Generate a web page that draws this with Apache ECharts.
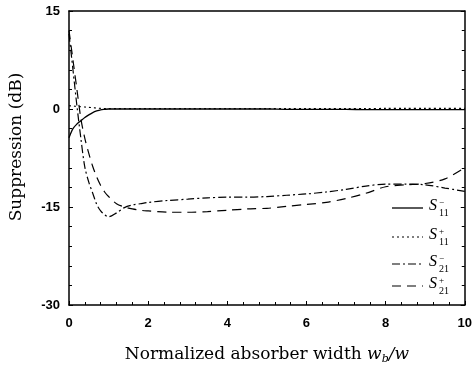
<!DOCTYPE html>
<html>
<head>
<meta charset="utf-8">
<script src="https://cdn.jsdelivr.net/npm/echarts@6/dist/echarts.min.js"></script>
<style>html,body{margin:0;padding:0;background:#fff}#c{width:475px;height:375px}</style>
</head>
<body>
<div id="c"></div>
<script>
var xs = [0, 0.1, 0.2, 0.3, 0.4, 0.5, 0.6, 0.7, 0.8, 0.9, 1.0, 1.2, 1.4, 1.6, 1.8, 2.0, 2.5, 3.0, 3.5, 4.0, 4.5, 5.0, 5.5, 6.0, 6.5, 7.0, 7.5, 8.0, 8.5, 9.0, 9.5, 10];
var s11m = [-4.4, -3.0, -2.3, -1.8, -1.3, -0.9, -0.55, -0.3, -0.12, -0.05, 0, 0, 0, 0, 0, 0, 0, 0, 0, 0, 0, 0, -0.05, -0.05, -0.05, -0.05, -0.1, -0.1, -0.1, -0.1, -0.1, -0.1];
var s11p = [0.5, 0.45, 0.4, 0.35, 0.3, 0.25, 0.2, 0.15, 0.1, 0.08, 0.05, 0.05, 0.05, 0.05, 0.05, 0.05, 0.05, 0.05, 0.05, 0.05, 0.05, 0.05, 0.05, 0.05, 0.05, 0.05, 0.05, 0.1, 0.1, 0.1, 0.1, 0.1];
var s21m = [11.5, 6, 0.5, -4.5, -8.9, -11.2, -12.9, -14.6, -15.6, -16.2, -16.5, -15.9, -15.1, -14.7, -14.5, -14.3, -14.0, -13.8, -13.6, -13.5, -13.5, -13.4, -13.2, -13.0, -12.7, -12.3, -11.8, -11.5, -11.5, -11.6, -12.1, -12.6];
var s21p = [12, 7.5, 3, -1.5, -4.5, -6.8, -8.8, -10.4, -11.7, -12.7, -13.4, -14.5, -15.0, -15.3, -15.5, -15.6, -15.8, -15.8, -15.7, -15.5, -15.3, -15.2, -14.9, -14.6, -14.3, -13.7, -12.9, -11.9, -11.6, -11.4, -10.7, -9.0];
var names = ['S11-', 'S11+', 'S21-', 'S21+'];
var xTicks = [0, 2, 4, 6, 8, 10];
var yTicks = [-30, -15, 0, 15];

function pairs(ys){ return xs.map(function(x,i){ return [x, ys[i]]; }); }

var chart = echarts.init(document.getElementById('c'), null, {renderer:'canvas'});
var labelFont = {fontFamily:'Liberation Sans', fontSize:13, fontWeight:'bold', color:'#000'};
var titleFont = 'DejaVu Serif';
function axisCommon(){ return {
  axisLine:{show:true, onZero:false, lineStyle:{color:'#000', width:1.5}},
  axisTick:{show:true, inside:true, length:4, lineStyle:{color:'#000'}},
  minorTick:{show:true, splitNumber:5, length:3, lineStyle:{color:'#000'}},
  splitLine:{show:false}
};}
var dashTypes = ['solid', [2,3], [8,3,2,3], [9,6]];
var widths = [1.3, 1.1, 1.2, 1.2];
function series(i, ys){
  return {name:names[i], type:'line', data:pairs(ys), symbol:'none', showSymbol:false, smooth:0.3,
    itemStyle:{color:'#000'},
    lineStyle:{color:'#000', width:widths[i], type:dashTypes[i]}, z:3};
}
var legY = [208, 237, 264, 286];
var sups = ['\u2212', '+', '\u2212', '+'];
var subs = ['11', '11', '21', '21'];
var graphics = [];
legY.forEach(function(y,i){
  var ld = dashTypes[i] === 'solid' ? null : dashTypes[i];
  graphics.push({type:'line', shape:{x1:392, y1:y, x2:423, y2:y}, style:{stroke:'#000', lineWidth:widths[i], lineDash:ld}});
  graphics.push({type:'text', left:429, top:y-10, style:{text:'S', font:'italic 16px "Liberation Serif"', fill:'#000'}});
  graphics.push({type:'text', left:439, top:y-10, style:{text:sups[i], font:'9px "Liberation Serif"', fill:'#000'}});
  graphics.push({type:'text', left:439, top:y+0, style:{text:subs[i], font:'10px "Liberation Serif"', fill:'#000'}});
});

chart.setOption({
  animation:false,
  backgroundColor:'#fff',
  grid:{left:68, right:8, top:11, bottom:70, show:false},
  legend:{show:false},
  graphic:graphics,
  xAxis:[Object.assign({type:'value', min:0, max:10, interval:2, position:'bottom',
    axisLabel:Object.assign({margin:12, formatter:function(v){return xTicks.indexOf(v)>=0?String(v):'';}}, labelFont),
    name:'{n|Normalized absorber width }{i|w}{b|b}{i|/w}', nameLocation:'middle', nameGap:40,
    nameTextStyle:{rich:{
      n:{fontFamily:titleFont, fontSize:17, color:'#000', lineHeight:20},
      i:{fontFamily:titleFont, fontStyle:'italic', fontSize:17, color:'#000', lineHeight:20},
      b:{fontFamily:titleFont, fontStyle:'italic', fontSize:11, color:'#000', lineHeight:20, padding:[8,0,0,0]}
    }}}, axisCommon()),
    {type:'value', min:0, max:10, position:'top', axisLine:{show:true, onZero:false, lineStyle:{color:'#000', width:1.5}}, axisTick:{show:false}, axisLabel:{show:false}, splitLine:{show:false}}
  ],
  yAxis:[Object.assign({type:'value', min:-30, max:15, interval:15, position:'left',
    axisLabel:Object.assign({margin:9, formatter:function(v){return yTicks.indexOf(v)>=0?String(v):'';}}, labelFont),
    name:'Suppression (dB)', nameLocation:'middle', nameGap:44, nameRotate:90,
    nameTextStyle:{fontFamily:titleFont, fontSize:17, color:'#000', padding:[0,0,0,22]}}, axisCommon()),
    Object.assign({type:'value', min:-30, max:15, interval:15, position:'right', axisLabel:{show:false}}, axisCommon())
  ],
  series:[
    series(0, s11m),
    series(1, s11p),
    series(2, s21m),
    series(3, s21p)
  ]
});
</script>
</body>
</html>
